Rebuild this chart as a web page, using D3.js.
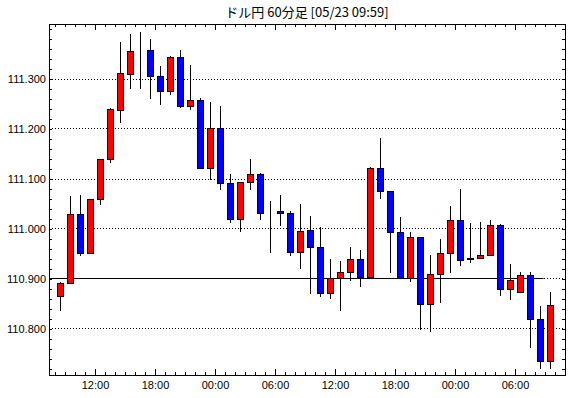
<!DOCTYPE html>
<html>
<head>
<meta charset="utf-8">
<script src="https://cdn.jsdelivr.net/npm/d3@7"></script>
<style>
  body { margin: 0; background: #fff; }
  svg text { font-family: "Liberation Sans", Arial, sans-serif; font-size: 11px; fill: #000; }
  .title { font-family: "Noto Sans CJK JP", sans-serif; font-size: 13px; }
</style>
</head>
<body>
<div id="chart"></div>
<script>
// 60 minute candles, 05/21 08:00 .. 05/23 09:00
var hours = ["05/21 08:00","05/21 09:00","05/21 10:00","05/21 11:00","05/21 12:00","05/21 13:00","05/21 14:00","05/21 15:00",
  "05/21 16:00","05/21 17:00","05/21 18:00","05/21 19:00","05/21 20:00","05/21 21:00","05/21 22:00","05/21 23:00",
  "05/22 00:00","05/22 01:00","05/22 02:00","05/22 03:00","05/22 04:00","05/22 05:00","05/22 06:00","05/22 07:00",
  "05/22 08:00","05/22 09:00","05/22 10:00","05/22 11:00","05/22 12:00","05/22 13:00","05/22 14:00","05/22 15:00",
  "05/22 16:00","05/22 17:00","05/22 18:00","05/22 19:00","05/22 20:00","05/22 21:00","05/22 22:00","05/22 23:00",
  "05/23 00:00","05/23 01:00","05/23 02:00","05/23 03:00","05/23 04:00","05/23 05:00","05/23 06:00","05/23 07:00",
  "05/23 08:00","05/23 09:00"];
var open  = [110.864,110.890,111.029,110.950,111.058,111.138,111.238,111.310,111.358,111.358,111.306,111.276,111.344,111.246,111.258,111.122,
  111.200,111.090,111.020,111.094,111.108,111.030,111.034,111.030,110.954,110.997,110.962,110.870,110.900,110.912,110.938,110.902,
  111.120,111.076,110.992,110.900,110.984,110.850,110.908,110.951,111.016,110.938,110.942,110.948,111.006,110.880,110.872,110.906,
  110.820,110.734];
var high  = [110.895,111.067,111.069,111.058,111.140,111.242,111.375,111.391,111.395,111.382,111.327,111.348,111.360,111.329,111.264,111.255,
  111.247,111.111,111.094,111.141,111.113,111.057,111.069,111.037,111.051,111.027,111.005,110.942,110.937,110.964,110.959,111.125,
  111.184,111.076,111.025,110.995,110.985,110.949,110.981,111.047,111.081,111.013,111.015,111.020,111.010,110.931,110.915,110.915,
  110.847,110.875];
var low   = [110.837,110.890,110.948,110.950,111.050,111.132,111.214,111.282,111.282,111.262,111.248,111.270,111.242,111.239,111.122,111.100,
  111.080,111.012,110.996,111.078,111.018,110.954,111.006,110.946,110.920,110.870,110.864,110.860,110.836,110.896,110.886,110.902,
  111.060,110.912,110.900,110.894,110.798,110.794,110.852,110.912,110.926,110.934,110.942,110.946,110.868,110.858,110.872,110.762,
  110.720,110.720];
var close = [110.892,111.029,110.950,111.058,111.139,111.239,111.311,111.356,111.358,111.306,111.276,111.344,111.246,111.258,111.122,111.202,
  111.090,111.020,111.094,111.108,111.030,111.030,111.030,110.954,110.996,110.962,110.870,110.900,110.912,110.938,110.902,111.120,
  111.076,110.992,110.900,110.984,110.850,110.908,110.951,111.016,110.936,110.942,110.948,111.006,110.880,110.898,110.906,110.820,
  110.734,110.847];
var gridValues = [110.8, 110.9, 111.0, 111.1, 111.2, 111.3];
var refLevel = 110.9;
var titleText = "ドル円 60分足 [05/23 09:59]";

var W = 570, H = 398;
var margin = {top: 24, right: 5, bottom: 23, left: 49};
var width = W - margin.left - margin.right,
    height = H - margin.top - margin.bottom;

var parseHour = d3.timeParse("%Y/%m/%d %H:%M");
var data = hours.map(function(h, i) {
  return {t: parseHour("2018/" + h), o: open[i], h: high[i], l: low[i], c: close[i]};
});

var svg = d3.select("#chart").append("svg")
  .attr("width", W).attr("height", H)
  .append("g")
  .attr("transform", "translate(" + margin.left + "," + margin.top + ")");

var t0 = data[0].t, tN = data[data.length - 1].t;
var x = d3.scaleTime()
  .domain([d3.timeMinute.offset(t0, -36), d3.timeHour.offset(tN, 2)])
  .range([0, width]);
var y = d3.scaleLinear().domain([110.707, 111.409]).range([height, 0]);
var mid = function(d) { return Math.round(x(d3.timeMinute.offset(d.t, 30))) + 0.5; };
var py = function(v) { return Math.round(y(v)) + 0.5; };

// grid
svg.selectAll(".grid").data(gridValues).enter().append("line")
  .attr("x1", 0).attr("x2", width)
  .attr("y1", py).attr("y2", py)
  .attr("stroke", "#000").attr("stroke-dasharray", "1,2")
  .attr("shape-rendering", "crispEdges");

// reference level (solid)
var lastBody = data[data.length - 2];
svg.append("line")
  .attr("x1", 0).attr("x2", mid(lastBody) + 3)
  .attr("y1", py(refLevel)).attr("y2", py(refLevel))
  .attr("stroke", "#000").attr("stroke-width", 1.2);

// axes
var hourTicks = d3.timeHour.every(1), sixTicks = d3.timeHour.every(6);
var yMinor = d3.range(110.72, 111.41, 0.02);

svg.append("g").call(d3.axisLeft(y).tickValues(yMinor).tickSize(-3).tickFormat(""));
svg.append("g").call(d3.axisLeft(y).tickValues(gridValues).tickSize(-3).tickPadding(3).tickFormat(d3.format(".3f")));
svg.append("g").attr("transform", "translate(" + width + ",0)")
  .call(d3.axisRight(y).tickValues(yMinor).tickSize(-3).tickFormat(""));

svg.append("g").call(d3.axisTop(x).ticks(hourTicks).tickSize(-3).tickFormat(""));
svg.append("g").call(d3.axisTop(x).ticks(sixTicks).tickSize(-6).tickFormat(""));
svg.append("g").attr("transform", "translate(0," + height + ")")
  .call(d3.axisBottom(x).ticks(hourTicks).tickSize(-3).tickFormat(""));
svg.append("g").attr("transform", "translate(0," + height + ")")
  .call(d3.axisBottom(x).ticks(sixTicks).tickSize(-6).tickPadding(6).tickFormat(d3.timeFormat("%H:%M")));

svg.selectAll(".domain").remove();
svg.selectAll(".tick line").attr("shape-rendering", "crispEdges");

svg.append("rect")
  .attr("x", 0.5).attr("y", 0.5).attr("width", width).attr("height", height)
  .attr("fill", "none").attr("stroke", "#000").attr("shape-rendering", "crispEdges");

// candles
var candle = svg.selectAll(".candle").data(data).enter().append("g");
candle.append("line")
  .attr("x1", mid).attr("x2", mid)
  .attr("y1", function(d) { return py(d.h); })
  .attr("y2", function(d) { return py(d.l); })
  .attr("stroke", "#000").attr("shape-rendering", "crispEdges");
candle.append("rect")
  .attr("x", function(d) { return mid(d) - 3; })
  .attr("y", function(d) { return py(Math.max(d.o, d.c)); })
  .attr("width", 6)
  .attr("height", function(d) { return py(Math.min(d.o, d.c)) - py(Math.max(d.o, d.c)); })
  .attr("fill", function(d) { return d.c > d.o ? "#ff0000" : (d.c < d.o ? "#0000ff" : "#000"); })
  .attr("stroke", "#000").attr("stroke-width", 1.2)
  .attr("shape-rendering", "crispEdges");

// title
svg.append("text").attr("class", "title")
  .attr("x", width / 2).attr("y", -7)
  .attr("text-anchor", "middle")
  .text(titleText);
</script>
</body>
</html>
